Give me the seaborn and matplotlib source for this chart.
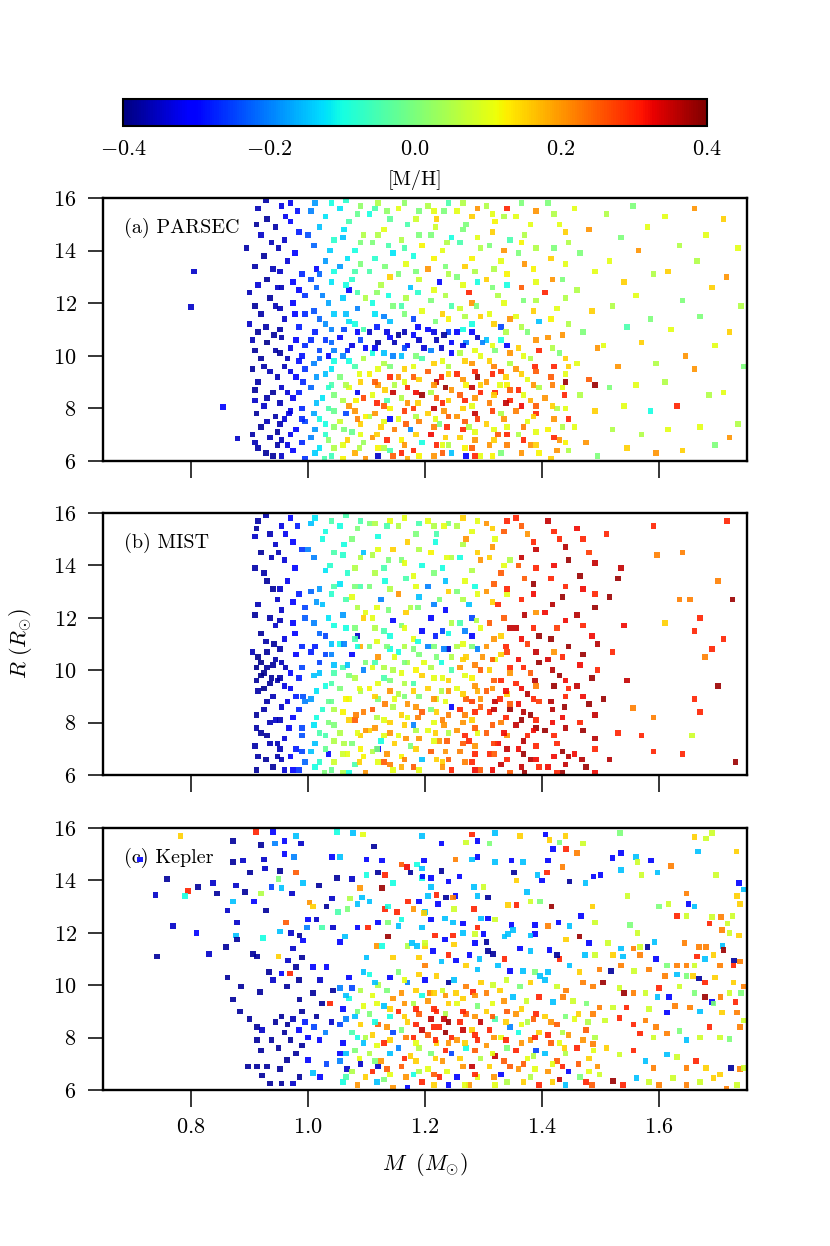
import numpy as np
import pandas as pd
import matplotlib
matplotlib.use("Agg")
import matplotlib.pyplot as plt
import seaborn as sns

sns.set_style("ticks")
plt.rcParams["font.family"] = "serif"
plt.rcParams["font.serif"] = ["cmr10", "DejaVu Serif"]
plt.rcParams["mathtext.fontset"] = "cm"
plt.rcParams["axes.formatter.use_mathtext"] = True
plt.rcParams["axes.unicode_minus"] = True
for key in ["text.color", "axes.labelcolor", "xtick.color", "ytick.color", "axes.edgecolor"]:
    plt.rcParams[key] = "black"

# points: (M [Msun], R [Rsun], [M/H])
parsec_pts = [
    (0.805, 13.2, -0.35), (0.80, 11.85, -0.35), (0.855, 8.05, -0.3), (0.88, 6.85, -0.35),
    (0.915, 15.6, -0.36), (0.93, 15.2, -0.38), (0.92, 14.6, -0.35), (0.945, 14.9, -0.37), (0.925, 13.8, -0.38),
    (0.94, 13.3, -0.36), (0.915, 12.7, -0.34), (0.935, 12.2, -0.38), (0.92, 11.6, -0.37), (0.945, 11.9, -0.36),
    (0.915, 10.9, -0.38), (0.93, 10.5, -0.39), (0.945, 10.2, -0.37), (0.92, 9.9, -0.38), (0.935, 9.4, -0.36),
    (0.915, 9.0, -0.37), (0.94, 8.6, -0.38), (0.925, 8.1, -0.35), (0.945, 7.7, -0.37), (0.92, 7.3, -0.38),
    (0.935, 6.9, -0.36), (0.915, 6.5, -0.37), (0.94, 6.2, -0.38), (0.905, 10.6, -0.36), (0.90, 11.2, -0.35),
    (0.895, 14.1, -0.37), (0.90, 12.4, -0.36), (0.905, 9.5, -0.38), (0.91, 8.3, -0.35), (0.905, 7.0, -0.37),
    (0.955, 15.7, -0.33), (0.97, 15.1, -0.3), (0.96, 14.4, -0.35), (0.985, 14.7, -0.28), (0.965, 13.6, -0.34),
    (0.99, 13.1, -0.27), (0.955, 12.6, -0.36), (0.975, 12.0, -0.31), (0.96, 11.4, -0.35), (0.985, 11.1, -0.28),
    (0.955, 10.7, -0.37), (0.97, 10.3, -0.33), (0.99, 10.0, -0.29), (0.96, 9.6, -0.36), (0.98, 9.2, -0.3),
    (0.955, 8.8, -0.35), (0.975, 8.4, -0.32), (0.99, 8.0, -0.27), (0.96, 7.6, -0.34), (0.98, 7.2, -0.3),
    (0.955, 6.8, -0.36), (0.975, 6.4, -0.31), (0.995, 6.1, -0.26), (0.995, 7.5, -0.25), (0.995, 9.5, -0.26),
    (0.995, 11.6, -0.27), (0.97, 15.8, -0.32), (0.985, 12.5, -0.3), (0.965, 9.9, -0.36), (0.97, 7.9, -0.33),
    (1.005, 15.5, -0.2), (1.02, 14.9, -0.15), (1.04, 15.8, -0.1), (1.01, 14.2, -0.22), (1.03, 13.6, -0.18),
    (1.045, 14.4, -0.08), (1.005, 12.9, -0.25), (1.025, 12.3, -0.2), (1.04, 12.8, -0.12), (1.01, 11.7, -0.24),
    (1.03, 11.2, -0.19), (1.045, 11.6, -0.14), (1.005, 10.6, -0.27), (1.02, 10.2, -0.25), (1.04, 10.5, -0.22),
    (1.01, 9.7, -0.2), (1.03, 9.3, -0.15), (1.045, 9.8, -0.1), (1.005, 8.8, -0.22), (1.025, 8.4, -0.12),
    (1.04, 8.9, -0.05), (1.01, 7.8, -0.17), (1.03, 7.4, -0.1), (1.045, 7.9, -0.02), (1.005, 6.9, -0.2),
    (1.02, 6.5, -0.12), (1.04, 6.2, -0.06), (1.035, 6.8, 0.02), (1.015, 13.3, -0.3), (1.035, 10.0, -0.3),
    (1.055, 15.6, -0.12), (1.07, 15.1, -0.05), (1.09, 15.7, 0.02), (1.06, 14.5, -0.15), (1.08, 14.0, -0.1),
    (1.095, 14.6, 0.05), (1.055, 13.4, -0.18), (1.075, 12.9, -0.08), (1.09, 13.5, 0.0), (1.06, 12.2, -0.14),
    (1.085, 11.8, -0.2), (1.07, 11.3, -0.12), (1.095, 11.0, -0.05), (1.055, 10.7, -0.3), (1.075, 10.4, -0.33),
    (1.09, 10.6, -0.25), (1.06, 10.0, -0.2), (1.08, 9.6, -0.05), (1.095, 9.9, 0.05), (1.055, 9.2, 0.0),
    (1.07, 8.8, 0.1), (1.09, 9.0, 0.15), (1.06, 8.3, 0.05), (1.08, 7.9, 0.2), (1.095, 8.4, 0.27),
    (1.055, 7.5, 0.08), (1.075, 7.1, -0.02), (1.09, 7.4, 0.15), (1.06, 6.6, 0.1), (1.08, 6.3, 0.18),
    (1.095, 6.7, 0.03), (1.07, 12.5, -0.3), (1.085, 8.6, -0.32), (1.065, 7.8, -0.25),
    (1.105, 15.4, -0.1), (1.12, 15.8, 0.05), (1.14, 15.2, -0.03), (1.11, 14.3, 0.0), (1.13, 14.8, 0.1),
    (1.145, 13.9, -0.12), (1.105, 13.2, -0.05), (1.125, 12.7, 0.05), (1.14, 13.0, 0.15), (1.11, 12.0, -0.1),
    (1.13, 11.5, -0.2), (1.145, 11.9, 0.0), (1.105, 10.9, -0.35), (1.12, 10.5, -0.38), (1.14, 10.7, -0.3),
    (1.11, 10.1, -0.1), (1.13, 9.7, 0.05), (1.145, 10.0, -0.2), (1.105, 9.3, 0.12), (1.12, 8.9, 0.2),
    (1.14, 9.2, 0.3), (1.11, 8.5, 0.1), (1.13, 8.1, 0.25), (1.145, 8.6, 0.35), (1.105, 7.7, 0.05),
    (1.125, 7.3, 0.15), (1.14, 7.6, -0.3), (1.11, 6.9, 0.2), (1.13, 6.5, 0.05), (1.145, 6.2, 0.25),
    (1.12, 6.2, -0.35), (1.135, 8.3, -0.05),
    (1.155, 15.6, 0.1), (1.17, 15.0, -0.05), (1.19, 15.5, 0.0), (1.16, 14.4, 0.05), (1.18, 13.8, -0.1),
    (1.195, 14.2, 0.12), (1.155, 13.1, 0.0), (1.175, 12.6, -0.15), (1.19, 12.9, 0.08), (1.16, 11.9, -0.05),
    (1.18, 11.4, -0.25), (1.195, 11.7, 0.1), (1.155, 10.8, -0.38), (1.17, 10.4, -0.32), (1.19, 10.6, -0.35),
    (1.16, 10.0, -0.15), (1.18, 9.6, 0.1), (1.195, 9.9, -0.05), (1.155, 9.2, 0.2), (1.17, 8.8, 0.3),
    (1.19, 9.1, 0.15), (1.16, 8.4, 0.05), (1.18, 8.0, 0.28), (1.195, 8.5, 0.38), (1.155, 7.6, 0.1),
    (1.175, 7.2, -0.2), (1.19, 7.5, 0.22), (1.16, 6.8, 0.12), (1.18, 6.4, 0.3), (1.195, 6.7, -0.1),
    (1.17, 6.1, 0.18),
    (1.205, 15.7, 0.05), (1.22, 15.2, 0.15), (1.24, 15.8, -0.05), (1.21, 14.6, 0.0), (1.23, 14.0, 0.1),
    (1.245, 14.5, -0.1), (1.205, 13.3, 0.2), (1.225, 12.8, -0.3), (1.24, 13.1, 0.05), (1.21, 12.1, 0.0),
    (1.23, 11.6, 0.15), (1.245, 11.9, -0.05), (1.205, 11.0, -0.3), (1.22, 10.6, -0.36), (1.24, 10.9, -0.25),
    (1.21, 10.2, -0.2), (1.23, 9.8, 0.1), (1.245, 10.1, -0.3), (1.205, 9.4, 0.25), (1.22, 9.0, 0.35),
    (1.24, 9.3, 0.15), (1.21, 8.6, 0.05), (1.23, 8.2, 0.3), (1.245, 8.7, 0.2), (1.205, 7.8, 0.15),
    (1.225, 7.4, 0.0), (1.24, 7.7, 0.25), (1.21, 7.0, 0.32), (1.23, 6.6, 0.1), (1.245, 6.3, -0.15),
    (1.215, 6.2, 0.2),
    (1.255, 15.5, 0.1), (1.27, 15.0, 0.0), (1.29, 15.6, 0.2), (1.26, 14.3, -0.05), (1.28, 13.7, 0.12),
    (1.295, 14.1, 0.05), (1.255, 13.0, 0.0), (1.275, 12.4, 0.3), (1.29, 12.8, -0.1), (1.26, 11.8, 0.08),
    (1.28, 11.2, -0.1), (1.295, 11.5, 0.15), (1.255, 10.9, -0.3), (1.27, 10.5, -0.2), (1.29, 10.7, -0.35),
    (1.26, 10.1, 0.05), (1.28, 9.7, 0.2), (1.295, 10.0, 0.1), (1.255, 9.3, 0.3), (1.27, 8.9, 0.12),
    (1.29, 9.2, 0.38), (1.26, 8.5, 0.25), (1.28, 8.1, 0.1), (1.295, 8.6, 0.3), (1.255, 7.7, 0.2),
    (1.275, 7.3, 0.05), (1.29, 7.6, 0.28), (1.26, 6.9, 0.15), (1.28, 6.5, 0.25), (1.295, 6.2, 0.1),
    (1.27, 6.2, -0.3),
    (1.305, 15.7, 0.05), (1.32, 15.1, 0.12), (1.34, 15.6, 0.3), (1.31, 14.2, 0.0), (1.33, 13.6, 0.1),
    (1.345, 14.4, -0.05), (1.305, 12.9, 0.15), (1.325, 12.3, 0.05), (1.34, 12.7, -0.1), (1.31, 11.6, 0.1),
    (1.33, 11.1, -0.25), (1.345, 11.4, 0.2), (1.305, 10.6, -0.15), (1.32, 10.2, 0.0), (1.34, 10.4, -0.3),
    (1.31, 9.8, 0.15), (1.33, 9.4, 0.28), (1.345, 9.7, 0.05), (1.305, 9.0, 0.2), (1.32, 8.6, 0.3),
    (1.34, 8.9, 0.12), (1.31, 8.2, 0.22), (1.33, 7.8, 0.05), (1.345, 8.3, 0.3), (1.305, 7.4, 0.15),
    (1.325, 7.0, 0.25), (1.34, 7.3, 0.1), (1.31, 6.6, 0.2), (1.33, 6.3, 0.0),
    (1.355, 15.3, 0.1), (1.37, 14.6, 0.05), (1.39, 15.5, 0.2), (1.36, 13.9, 0.0), (1.385, 13.3, 0.12),
    (1.365, 12.6, 0.25), (1.39, 12.1, 0.05), (1.355, 11.5, 0.1), (1.375, 10.9, 0.0), (1.395, 11.3, -0.15),
    (1.36, 10.3, 0.15), (1.38, 9.9, 0.05), (1.395, 10.2, 0.3), (1.355, 9.5, 0.2), (1.375, 9.1, 0.1),
    (1.39, 9.4, 0.25), (1.36, 8.7, 0.3), (1.38, 8.3, 0.18), (1.395, 8.8, 0.05), (1.355, 7.9, 0.22),
    (1.375, 7.5, 0.1), (1.39, 7.8, 0.3), (1.36, 7.0, 0.05), (1.38, 6.6, 0.2), (1.395, 6.3, 0.12),
    (1.41, 15.8, 0.0), (1.43, 15.0, 0.1), (1.445, 14.3, 0.05), (1.415, 13.7, 0.15), (1.435, 12.9, 0.0),
    (1.405, 12.4, 0.3), (1.425, 11.8, 0.1), (1.445, 11.2, 0.05), (1.41, 10.7, 0.2), (1.43, 10.1, 0.0),
    (1.445, 9.6, 0.15), (1.415, 9.2, 0.25), (1.435, 8.8, 0.1), (1.405, 8.4, 0.2), (1.425, 8.0, 0.05),
    (1.445, 7.6, 0.3), (1.41, 7.2, 0.12), (1.43, 6.8, 0.2), (1.445, 6.4, 0.05), (1.415, 6.1, 0.15),
    (1.44, 9.0, 0.38),
    (1.455, 15.6, 0.1), (1.48, 14.8, 0.2), (1.465, 13.9, 0.0), (1.49, 13.2, 0.1), (1.46, 12.5, 0.05),
    (1.485, 11.7, 0.15), (1.47, 10.9, 0.0), (1.495, 10.3, 0.2), (1.46, 9.7, 0.1), (1.48, 9.1, 0.25),
    (1.465, 8.5, 0.05), (1.49, 7.9, 0.15), (1.455, 7.3, 0.1), (1.475, 6.7, 0.2), (1.495, 6.2, 0.0),
    (1.49, 8.9, 0.38),
    (1.51, 15.4, 0.05), (1.535, 14.5, 0.0), (1.515, 13.6, 0.1), (1.54, 12.8, 0.15), (1.52, 11.9, 0.05),
    (1.545, 11.1, -0.05), (1.505, 10.4, 0.1), (1.53, 9.6, 0.2), (1.515, 8.8, 0.0), (1.54, 8.1, 0.1),
    (1.52, 7.2, 0.05), (1.545, 6.5, 0.15),
    (1.555, 15.7, 0.0), (1.58, 14.9, 0.1), (1.565, 14.0, 0.2), (1.59, 13.1, 0.05), (1.56, 12.3, 0.1),
    (1.585, 11.4, 0.0), (1.57, 10.5, 0.15), (1.595, 9.7, 0.05), (1.56, 8.9, 0.1), (1.585, 7.9, -0.1),
    (1.57, 7.0, 0.05), (1.595, 6.3, 0.2),
    (1.61, 15.3, 0.1), (1.635, 14.2, 0.05), (1.615, 13.2, 0.15), (1.64, 12.1, 0.0), (1.62, 11.0, 0.1),
    (1.645, 10.0, 0.2), (1.61, 9.0, 0.05), (1.63, 8.1, 0.3), (1.615, 7.2, 0.1), (1.64, 6.4, 0.15),
    (1.66, 15.6, 0.2), (1.68, 14.6, 0.1), (1.665, 13.6, 0.05), (1.69, 12.6, 0.15), (1.67, 11.5, 0.0),
    (1.695, 10.4, 0.1), (1.66, 9.5, 0.2), (1.685, 8.5, 0.05), (1.67, 7.3, 0.1), (1.695, 6.6, 0.0),
    (1.71, 15.2, 0.15), (1.735, 14.1, 0.1), (1.715, 13.0, 0.2), (1.74, 11.9, 0.05), (1.72, 10.9, 0.15),
    (1.745, 9.6, 0.0), (1.71, 8.6, 0.1), (1.735, 7.4, 0.05), (1.72, 6.9, 0.2),
    # denser fill of the crowded part
    (0.928,15.9,-.37),(0.912,15.0,-.38),(0.938,14.3,-.36),(0.91,13.4,-.37),(0.93,12.9,-.38),(0.948,12.6,-.35),
    (0.91,11.9,-.38),(0.928,11.1,-.37),(0.942,10.8,-.38),(0.91,10.2,-.38),(0.925,9.6,-.37),(0.948,9.2,-.36),
    (0.91,8.7,-.38),(0.93,8.4,-.37),(0.912,7.8,-.38),(0.93,7.5,-.36),(0.948,7.1,-.38),(0.91,6.7,-.36),
    (0.928,6.3,-.38),(0.948,6.6,-.37),
    (0.962,15.3,-.32),(0.982,15.5,-.29),(0.95,14.1,-.36),(0.978,13.9,-.3),(0.952,13.2,-.35),(0.975,12.8,-.31),
    (0.995,12.3,-.26),(0.952,11.8,-.36),(0.978,11.6,-.3),(0.952,11.0,-.37),(0.98,10.6,-.31),(0.995,10.4,-.27),
    (0.952,10.1,-.38),(0.985,9.8,-.29),(0.97,9.4,-.33),(0.992,9.0,-.27),(0.965,8.6,-.34),(0.985,8.6,-.28),
    (0.952,8.2,-.36),(0.968,7.8,-.33),(0.99,7.6,-.27),(0.952,7.4,-.36),(0.97,7.0,-.32),(0.99,6.7,-.27),
    (0.955,6.2,-.35),(0.965,6.6,-.33),
    (1.012,15.8,-.18),(1.03,15.3,-.12),(1.0,14.6,-.24),(1.038,14.0,-.14),(1.02,13.1,-.22),(1.045,13.2,-.1),
    (1.015,12.6,-.22),(1.035,12.0,-.17),(1.02,11.4,-.22),(1.04,11.0,-.2),(1.012,10.9,-.28),(1.03,10.6,-.26),
    (1.045,10.2,-.2),(1.02,9.9,-.22),(1.04,9.5,-.12),(1.015,9.2,-.18),(1.035,8.8,-.08),(1.045,8.5,0.0),
    (1.015,8.2,-.15),(1.035,8.0,-.05),(1.02,7.6,-.1),(1.045,7.3,0.02),(1.012,7.2,-.18),(1.03,7.0,-.08),
    (1.012,6.3,-.14),(1.028,6.1,-.05),(1.045,6.5,0.05),
    (1.065,15.9,-.08),(1.085,15.4,-.02),(1.062,14.8,-.12),(1.09,14.3,0.0),(1.068,13.7,-.12),(1.08,13.2,-.05),
    (1.065,12.7,-.1),(1.085,12.4,-.05),(1.098,12.2,0.05),(1.065,11.6,-.15),(1.08,11.2,-.1),(1.062,11.0,-.25),
    (1.085,10.9,-.3),(1.068,10.2,-.28),(1.098,10.3,-.3),(1.07,9.8,-.1),(1.088,9.3,0.1),(1.065,8.9,0.05),
    (1.082,8.3,0.12),(1.07,8.1,0.2),(1.098,7.7,0.12),(1.085,7.6,0.22),(1.062,7.2,0.0),(1.09,7.0,0.1),
    (1.068,6.8,0.15),(1.088,6.5,0.05),(1.06,6.1,0.12),(1.098,6.1,0.2),
    (1.115,15.6,-.05),(1.135,15.5,0.02),(1.12,14.6,0.05),(1.138,14.2,-.05),(1.115,13.7,-.08),(1.132,13.4,0.0),
    (1.118,12.4,0.02),(1.138,12.3,-.1),(1.115,11.6,-.12),(1.14,11.3,-.15),(1.118,11.1,-.28),(1.135,10.9,-.33),
    (1.148,10.5,-.36),(1.115,10.3,-.32),(1.13,10.1,-.15),(1.12,9.5,0.1),(1.14,9.6,0.0),(1.115,9.0,0.25),
    (1.132,8.7,0.15),(1.148,8.9,0.05),(1.118,8.2,0.3),(1.14,8.0,0.12),(1.115,7.8,0.2),(1.13,7.5,0.1),
    (1.148,7.2,0.22),(1.118,7.0,0.15),(1.135,6.8,0.3),(1.12,6.5,0.12),(1.14,6.4,-.05),
    (1.165,15.8,0.02),(1.185,15.2,0.08),(1.165,14.1,-.05),(1.19,14.6,0.0),(1.168,13.5,0.1),(1.185,13.2,0.0),
    (1.168,12.2,0.05),(1.188,12.4,-.08),(1.165,11.6,0.0),(1.188,11.1,-.3),(1.165,10.9,-.36),(1.18,10.8,-.3),
    (1.198,10.3,-.34),(1.165,10.3,-.25),(1.185,10.0,0.0),(1.165,9.5,0.15),(1.18,9.2,0.25),(1.165,9.0,0.1),
    (1.185,8.6,0.32),(1.17,8.2,0.2),(1.188,8.2,0.15),(1.165,7.9,0.28),(1.185,7.7,0.05),(1.168,7.4,0.25),
    (1.185,7.0,0.15),(1.165,6.6,0.2),(1.19,6.2,0.12),(1.16,6.3,0.3),
    (1.215,15.5,0.1),(1.232,15.5,0.0),(1.218,14.9,0.08),(1.238,14.3,0.05),(1.215,13.7,0.12),(1.235,13.4,0.0),
    (1.215,12.5,0.1),(1.235,12.3,0.05),(1.218,11.3,0.0),(1.24,11.4,0.12),(1.215,10.9,-.33),(1.232,10.8,-.38),
    (1.245,10.5,-.3),(1.228,10.3,-.35),(1.215,9.7,0.15),(1.24,9.6,0.05),(1.228,9.2,0.3),(1.215,8.9,0.2),
    (1.235,8.8,0.38),(1.22,8.4,0.25),(1.24,8.3,0.15),(1.215,8.0,0.35),(1.232,7.9,0.2),(1.218,7.6,0.1),
    (1.238,7.3,0.3),(1.215,7.3,0.22),(1.235,6.9,0.15),(1.22,6.6,0.3),(1.24,6.6,0.05),(1.23,6.3,0.25),
    (1.265,15.8,0.05),(1.28,15.3,0.15),(1.265,14.8,0.0),(1.29,14.5,0.1),(1.268,13.4,0.15),(1.285,13.2,0.05),
    (1.265,12.7,0.1),(1.28,12.0,0.2),(1.268,11.5,0.05),(1.288,11.9,0.0),(1.265,11.0,-.1),(1.28,10.9,-.3),
    (1.298,10.5,-.2),(1.265,10.4,-.33),(1.285,10.2,0.1),(1.268,9.8,0.15),(1.285,9.4,0.3),(1.265,9.1,0.2),
    (1.28,8.8,0.35),(1.295,8.9,0.15),(1.268,8.3,0.3),(1.285,8.4,0.2),(1.265,8.0,0.15),(1.285,7.8,0.35),
    (1.268,7.5,0.25),(1.285,7.1,0.1),(1.265,7.2,0.3),(1.285,6.8,0.2),(1.268,6.5,0.12),(1.285,6.2,0.3),
    (1.315,15.4,0.1),(1.335,15.3,0.05),(1.315,14.7,0.15),(1.335,14.0,0.2),(1.318,13.3,0.05),(1.34,13.1,0.12),
    (1.315,12.6,0.0),(1.335,12.0,0.1),(1.318,11.2,0.15),(1.338,10.9,0.05),(1.315,10.4,0.1),(1.33,10.6,-.1),
    (1.345,10.1,0.2),(1.318,9.6,0.22),(1.338,9.2,0.15),(1.315,9.3,0.3),(1.328,8.9,0.1),(1.345,8.7,0.25),
    (1.318,8.5,0.15),(1.338,8.2,0.35),(1.315,7.9,0.28),(1.335,7.6,0.2),(1.318,7.2,0.1),(1.34,7.0,0.3),
    (1.318,6.8,0.15),(1.34,6.6,0.22),(1.315,6.2,0.12),
    (1.365,15.8,0.0),(1.38,15.0,0.1),(1.365,14.3,0.12),(1.39,14.1,0.05),(1.37,13.5,0.2),(1.39,12.8,0.1),
    (1.368,12.1,0.0),(1.385,11.7,0.15),(1.365,11.1,0.05),(1.39,10.6,0.2),(1.368,10.0,0.1),(1.388,9.6,0.3),
    (1.365,9.3,0.15),(1.385,8.9,0.2),(1.368,8.5,0.1),(1.39,8.1,0.25),(1.365,8.1,0.32),(1.385,7.7,0.15),
    (1.368,7.3,0.22),(1.39,7.1,0.1),(1.368,6.8,0.3),(1.39,6.6,0.15),(1.365,6.3,0.2),
    (1.42,15.4,0.05),(1.44,14.7,0.15),(1.42,14.1,0.0),(1.44,13.5,0.1),(1.418,12.9,0.2),(1.44,12.2,0.05),
    (1.415,11.4,0.12),(1.435,10.8,0.2),(1.418,10.3,0.05),(1.44,9.9,0.15),(1.42,9.6,0.3),(1.44,9.3,0.1),
    (1.418,8.9,0.22),(1.438,8.5,0.3),(1.418,8.1,0.15),(1.44,8.0,0.1),(1.42,7.6,0.2),(1.435,7.3,0.05),
    (1.42,6.9,0.3),(1.44,6.7,0.12),(1.425,6.4,0.2),
]

mist_pts = [
    (0.915, 15.7, -0.37), (0.935, 15.2, -0.36), (0.92, 14.5, -0.38), (0.945, 14.8, -0.35), (0.925, 13.7, -0.37),
    (0.94, 13.1, -0.38), (0.915, 12.5, -0.36), (0.935, 12.0, -0.37), (0.92, 11.4, -0.38), (0.945, 11.7, -0.35),
    (0.915, 10.5, -0.39), (0.93, 10.1, -0.38), (0.945, 10.4, -0.37), (0.92, 9.8, -0.39), (0.935, 9.5, -0.38),
    (0.915, 9.2, -0.37), (0.94, 9.0, -0.36), (0.925, 8.5, -0.37), (0.945, 8.1, -0.35), (0.92, 7.6, -0.38),
    (0.935, 7.2, -0.36), (0.915, 6.7, -0.37), (0.94, 6.3, -0.38), (0.905, 10.7, -0.36), (0.91, 7.1, -0.37),
    (0.91, 15.1, -0.35), (0.93, 10.7, -0.38), (0.925, 9.3, -0.39),
    (0.955, 15.5, -0.33), (0.975, 14.9, -0.3), (0.96, 14.2, -0.34), (0.99, 14.6, -0.26), (0.965, 13.4, -0.32),
    (0.985, 12.9, -0.28), (0.955, 12.3, -0.35), (0.975, 11.8, -0.3), (0.96, 11.2, -0.33), (0.99, 10.9, -0.27),
    (0.955, 10.3, -0.36), (0.97, 9.9, -0.3), (0.99, 10.1, -0.25), (0.96, 9.4, -0.33), (0.98, 9.0, -0.28),
    (0.955, 8.6, -0.35), (0.975, 8.2, -0.3), (0.99, 7.8, -0.25), (0.96, 7.4, -0.34), (0.98, 7.0, -0.28),
    (0.955, 6.6, -0.36), (0.975, 6.2, -0.31), (0.995, 6.5, -0.22), (0.995, 8.8, -0.2), (0.995, 12.0, -0.23),
    (0.97, 15.8, -0.3),
    (1.005, 15.6, -0.15), (1.025, 15.0, -0.1), (1.04, 15.7, -0.05), (1.01, 14.3, -0.2), (1.03, 13.8, -0.12),
    (1.045, 14.5, -0.05), (1.005, 13.0, -0.22), (1.025, 12.5, -0.15), (1.04, 12.9, -0.08), (1.01, 11.8, -0.2),
    (1.03, 11.3, -0.25), (1.045, 11.7, -0.1), (1.005, 10.7, -0.28), (1.02, 10.3, -0.25), (1.04, 10.6, -0.2),
    (1.01, 9.8, -0.15), (1.03, 9.4, -0.1), (1.045, 9.9, -0.05), (1.005, 8.9, -0.18), (1.025, 8.5, -0.08),
    (1.04, 8.8, -0.02), (1.01, 7.9, -0.12), (1.03, 7.5, -0.05), (1.045, 7.9, 0.0), (1.005, 6.9, -0.15),
    (1.02, 6.5, -0.08), (1.04, 6.2, -0.02), (1.035, 6.8, -0.3),
    (1.055, 15.5, -0.1), (1.075, 15.0, 0.0), (1.09, 15.7, -0.05), (1.06, 14.4, -0.08), (1.08, 13.9, 0.05),
    (1.095, 14.5, -0.15), (1.055, 13.3, -0.12), (1.075, 12.8, 0.1), (1.09, 13.2, -0.05), (1.06, 12.1, -0.18),
    (1.08, 11.6, 0.0), (1.095, 12.0, 0.15), (1.055, 11.0, -0.1), (1.075, 10.6, -0.3), (1.09, 10.9, 0.18),
    (1.06, 10.1, -0.05), (1.08, 9.7, 0.05), (1.095, 10.0, -0.2), (1.055, 9.3, 0.0), (1.07, 8.9, 0.1),
    (1.09, 9.2, 0.05), (1.06, 8.4, 0.12), (1.08, 8.1, 0.25), (1.095, 8.4, 0.22), (1.055, 7.6, 0.05),
    (1.075, 7.2, 0.0), (1.09, 7.5, 0.15), (1.06, 6.8, 0.08), (1.08, 6.4, -0.05), (1.095, 6.7, 0.12),
    (1.07, 6.1, -0.1), (1.085, 11.3, -0.35),
    (1.105, 15.6, 0.0), (1.12, 15.1, -0.1), (1.14, 15.7, 0.1), (1.11, 14.4, 0.05), (1.13, 13.9, -0.05),
    (1.145, 14.6, 0.15), (1.105, 13.2, 0.0), (1.125, 12.7, -0.2), (1.14, 13.1, 0.05), (1.11, 12.0, 0.1),
    (1.13, 11.5, -0.05), (1.145, 11.9, -0.3), (1.105, 10.9, 0.0), (1.12, 10.5, 0.2), (1.14, 10.8, -0.1),
    (1.11, 10.1, 0.1), (1.13, 9.7, -0.05), (1.145, 10.0, 0.05), (1.105, 9.3, 0.12), (1.12, 8.9, 0.0),
    (1.14, 9.2, 0.2), (1.11, 8.5, 0.25), (1.13, 8.1, 0.1), (1.145, 8.6, 0.05), (1.105, 7.7, 0.15),
    (1.125, 7.3, -0.1), (1.14, 7.6, 0.2), (1.11, 6.9, 0.05), (1.13, 6.5, 0.25), (1.145, 6.2, 0.1),
    (1.12, 7.0, -0.3),
    (1.155, 15.5, 0.05), (1.17, 14.9, 0.15), (1.19, 15.6, -0.05), (1.16, 14.2, 0.0), (1.18, 13.6, 0.1),
    (1.195, 14.0, -0.1), (1.155, 12.9, 0.2), (1.175, 12.4, 0.05), (1.19, 12.8, -0.15), (1.16, 11.7, 0.0),
    (1.18, 11.2, 0.1), (1.195, 11.5, -0.3), (1.155, 10.7, -0.1), (1.17, 10.3, 0.05), (1.19, 10.6, 0.0),
    (1.16, 9.9, 0.1), (1.18, 9.5, -0.05), (1.195, 9.8, 0.15), (1.155, 9.1, 0.05), (1.17, 8.7, 0.2),
    (1.19, 9.0, 0.0), (1.16, 8.3, 0.15), (1.18, 7.9, -0.2), (1.195, 8.4, 0.25), (1.155, 7.5, 0.1),
    (1.175, 7.1, 0.0), (1.19, 7.4, 0.2), (1.16, 6.7, 0.12), (1.18, 6.3, 0.25), (1.195, 6.6, -0.15),
    (1.205, 15.7, 0.1), (1.22, 15.2, -0.05), (1.24, 15.6, 0.0), (1.21, 14.5, 0.12), (1.23, 13.9, -0.1),
    (1.245, 14.3, 0.05), (1.205, 13.2, -0.2), (1.225, 12.7, 0.0), (1.24, 13.0, 0.15), (1.21, 12.0, -0.3),
    (1.23, 11.5, -0.25), (1.245, 11.8, 0.05), (1.205, 10.9, -0.2), (1.22, 10.5, 0.0), (1.24, 10.8, -0.35),
    (1.21, 10.1, 0.05), (1.23, 9.7, 0.1), (1.245, 10.0, -0.05), (1.205, 9.3, 0.15), (1.22, 8.9, 0.08),
    (1.24, 9.2, 0.2), (1.21, 8.5, 0.0), (1.23, 8.1, 0.22), (1.245, 8.6, -0.3), (1.205, 7.7, 0.1),
    (1.225, 7.3, 0.2), (1.24, 7.6, 0.05), (1.21, 6.9, 0.25), (1.23, 6.5, 0.15), (1.245, 6.2, 0.3),
    (1.255, 15.5, 0.05), (1.27, 15.0, 0.2), (1.29, 15.7, 0.1), (1.26, 14.3, -0.1), (1.28, 13.8, 0.05),
    (1.295, 14.2, 0.2), (1.255, 13.0, 0.0), (1.275, 12.5, -0.15), (1.29, 12.9, 0.1), (1.26, 11.8, -0.05),
    (1.28, 11.3, -0.3), (1.295, 11.6, 0.1), (1.255, 10.9, 0.05), (1.27, 10.5, 0.15), (1.29, 10.8, -0.2),
    (1.26, 10.1, 0.2), (1.28, 9.7, 0.12), (1.295, 10.0, 0.25), (1.255, 9.3, 0.1), (1.27, 8.9, 0.25),
    (1.29, 9.2, 0.18), (1.26, 8.5, 0.3), (1.28, 8.1, 0.15), (1.295, 8.6, 0.25), (1.255, 7.7, 0.2),
    (1.275, 7.3, 0.3), (1.29, 7.6, 0.1), (1.26, 6.9, 0.22), (1.28, 6.5, 0.3), (1.295, 6.2, 0.25),
    (1.305, 15.6, 0.2), (1.32, 15.0, 0.1), (1.34, 15.7, 0.3), (1.31, 14.3, 0.15), (1.33, 13.7, 0.25),
    (1.345, 14.2, 0.05), (1.305, 13.0, 0.2), (1.325, 12.5, 0.3), (1.34, 12.9, 0.1), (1.31, 11.8, 0.25),
    (1.33, 11.3, 0.15), (1.345, 11.6, 0.35), (1.305, 10.9, 0.2), (1.32, 10.4, 0.1), (1.34, 10.7, 0.28),
    (1.31, 10.0, 0.15), (1.33, 9.6, 0.3), (1.345, 9.9, 0.2), (1.305, 9.2, 0.25), (1.32, 8.8, 0.35),
    (1.34, 9.1, 0.15), (1.31, 8.4, 0.3), (1.33, 8.0, 0.22), (1.345, 8.5, 0.38), (1.305, 7.6, 0.25),
    (1.325, 7.2, 0.32), (1.34, 7.5, 0.2), (1.31, 6.8, 0.3), (1.33, 6.4, 0.35), (1.345, 6.1, 0.25),
    (1.355, 15.8, 0.3), (1.375, 15.2, 0.2), (1.39, 14.6, 0.35), (1.36, 14.0, 0.25), (1.385, 13.3, 0.38),
    (1.365, 12.7, 0.3), (1.39, 12.2, 0.2), (1.355, 11.6, 0.35), (1.375, 11.0, 0.28), (1.395, 11.3, 0.38),
    (1.36, 10.4, 0.32), (1.38, 9.9, 0.25), (1.395, 10.3, 0.38), (1.355, 9.5, 0.3), (1.375, 9.1, 0.36),
    (1.39, 9.4, 0.22), (1.36, 8.7, 0.32), (1.38, 8.3, 0.38), (1.395, 8.8, 0.28), (1.355, 7.9, 0.35),
    (1.375, 7.5, 0.3), (1.39, 7.8, 0.38), (1.36, 7.0, 0.32), (1.38, 6.6, 0.36), (1.395, 6.3, 0.3),
    (1.37, 6.1, 0.38),
    (1.41, 15.7, 0.35), (1.43, 15.0, 0.3), (1.445, 14.2, 0.38), (1.415, 13.5, 0.3), (1.435, 12.8, 0.38),
    (1.405, 12.2, 0.32), (1.425, 11.6, 0.28), (1.445, 10.9, 0.38), (1.41, 10.4, 0.34), (1.43, 9.8, 0.38),
    (1.445, 9.3, 0.3), (1.415, 8.8, 0.36), (1.435, 8.2, 0.32), (1.405, 7.7, 0.38), (1.425, 7.2, 0.3),
    (1.445, 6.7, 0.36), (1.41, 6.3, 0.32), (1.435, 6.1, 0.38), (1.42, 10.7, 0.2),
    (1.46, 15.4, 0.32), (1.48, 14.5, 0.28), (1.465, 13.6, 0.38), (1.49, 12.9, 0.3), (1.46, 12.1, 0.36),
    (1.485, 11.3, 0.32), (1.47, 10.6, 0.38), (1.495, 10.0, 0.3), (1.46, 9.4, 0.35), (1.48, 8.7, 0.38),
    (1.465, 8.0, 0.3), (1.49, 7.4, 0.36), (1.455, 6.8, 0.32), (1.475, 6.3, 0.38),
    (1.51, 15.2, 0.3), (1.535, 13.9, 0.35), (1.515, 12.8, 0.38), (1.54, 11.7, 0.32), (1.52, 10.7, 0.3),
    (1.545, 9.6, 0.35), (1.505, 8.9, 0.38), (1.53, 7.6, 0.3), (1.515, 6.6, 0.36), (1.53, 13.5, 0.38),
    (1.716, 15.7, 0.3), (1.70, 13.4, 0.22), (1.725, 12.7, 0.38), (1.67, 12.0, 0.3), (1.69, 10.8, 0.3),
    (1.678, 10.5, 0.22), (1.71, 11.2, 0.3), (1.70, 9.4, 0.38), (1.66, 8.9, 0.3), (1.67, 8.4, 0.3),
    (1.656, 7.5, 0.08), (1.64, 6.8, 0.3), (1.73, 6.5, 0.38), (1.59, 6.9, 0.3), (1.57, 7.5, 0.3),
    (1.59, 8.2, 0.22), (1.555, 8.55, 0.22), (1.61, 11.8, 0.15), (1.64, 14.5, 0.22), (1.596, 14.4, 0.22),
    (1.59, 15.5, 0.3), (1.635, 12.7, 0.22), (1.653, 12.7, 0.22), (1.66, 11.5, 0.3),
    # denser fill of the crowded part
    (0.928,15.9,-.37),(0.912,15.4,-.38),(0.938,14.3,-.36),(0.91,13.9,-.37),(0.93,13.4,-.38),(0.948,12.7,-.35),
    (0.91,12.1,-.38),(0.928,11.1,-.37),(0.942,11.0,-.38),(0.912,10.1,-.39),(0.925,9.9,-.39),(0.938,9.7,-.38),
    (0.948,9.6,-.37),(0.912,9.6,-.38),(0.92,10.3,-.39),(0.94,10.2,-.38),(0.93,8.8,-.37),(0.912,8.3,-.38),
    (0.935,8.0,-.36),(0.912,7.8,-.37),(0.93,7.5,-.38),(0.948,7.2,-.36),(0.928,6.6,-.38),(0.948,6.7,-.37),
    (0.912,6.2,-.38),
    (0.962,15.2,-.32),(0.982,15.5,-.28),(0.95,14.5,-.36),(0.978,13.9,-.3),(0.952,13.1,-.35),(0.975,12.6,-.31),
    (0.995,12.4,-.25),(0.952,11.9,-.36),(0.978,11.4,-.3),(0.952,10.8,-.37),(0.98,10.6,-.3),(0.962,10.1,-.36),
    (0.985,9.7,-.28),(0.952,9.7,-.37),(0.97,9.3,-.32),(0.992,9.0,-.24),(0.965,8.8,-.33),(0.985,8.5,-.27),
    (0.952,8.1,-.36),(0.968,7.8,-.32),(0.99,7.5,-.24),(0.952,7.0,-.36),(0.97,6.7,-.3),(0.99,6.9,-.25),
    (0.96,6.2,-.34),(0.985,6.2,-.26),
    (1.012,15.8,-.12),(1.03,15.3,-.1),(1.0,14.6,-.2),(1.038,14.0,-.08),(1.02,13.1,-.18),(1.045,13.2,-.05),
    (1.015,12.6,-.18),(1.035,12.0,-.12),(1.02,11.4,-.22),(1.04,11.0,-.15),(1.012,10.9,-.28),(1.03,10.6,-.25),
    (1.045,10.2,-.15),(1.02,9.9,-.15),(1.04,9.5,-.05),(1.015,9.2,-.12),(1.035,8.8,-.02),(1.045,8.5,0.05),
    (1.015,8.2,-.1),(1.035,8.0,0.0),(1.02,7.6,-.05),(1.045,7.3,0.05),(1.012,7.2,-.15),(1.03,7.0,-.02),
    (1.012,6.3,-.1),(1.028,6.1,0.0),(1.045,6.5,0.08),
    (1.065,15.9,-.05),(1.085,15.4,0.0),(1.062,14.8,-.1),(1.09,14.3,0.05),(1.068,13.7,-.08),(1.08,13.2,0.0),
    (1.065,12.7,-.05),(1.085,12.4,0.05),(1.098,12.2,0.1),(1.065,11.6,-.1),(1.08,11.2,-.05),(1.062,11.0,-.2),
    (1.085,10.9,-.1),(1.068,10.2,-.15),(1.098,10.3,0.0),(1.07,9.8,0.0),(1.088,9.3,0.1),(1.065,8.9,0.12),
    (1.082,8.3,0.22),(1.07,8.1,0.15),(1.098,7.7,0.2),(1.085,7.6,0.1),(1.062,7.2,0.05),(1.09,7.0,0.12),
    (1.068,6.8,0.1),(1.088,6.5,0.15),(1.06,6.1,0.05),(1.098,6.1,0.2),
    (1.115,15.6,0.05),(1.135,15.5,-.05),(1.12,14.6,0.1),(1.138,14.2,0.0),(1.115,13.7,0.05),(1.132,13.4,-.1),
    (1.118,12.4,0.1),(1.138,12.3,0.0),(1.115,11.6,0.05),(1.14,11.3,-.1),(1.118,11.1,0.1),(1.135,10.9,0.0),
    (1.148,10.5,0.1),(1.115,10.3,-.05),(1.13,10.1,0.05),(1.12,9.5,0.1),(1.14,9.6,0.0),(1.115,9.0,0.15),
    (1.132,8.7,0.22),(1.148,8.9,0.1),(1.118,8.2,0.05),(1.14,8.0,0.15),(1.115,7.8,0.2),(1.13,7.5,0.1),
    (1.148,7.2,0.15),(1.118,7.0,0.0),(1.135,6.8,0.2),(1.12,6.5,0.1),(1.14,6.4,0.22),
    (1.165,15.8,0.1),(1.185,15.2,0.0),(1.165,14.1,0.1),(1.19,14.6,0.05),(1.168,13.5,-.05),(1.185,13.2,0.1),
    (1.168,12.2,0.15),(1.188,12.4,0.0),(1.165,11.6,0.1),(1.188,11.1,-.1),(1.165,10.9,0.05),(1.18,10.8,0.0),
    (1.198,10.3,0.1),(1.165,10.3,0.0),(1.185,10.0,0.12),(1.165,9.5,0.05),(1.18,9.2,0.15),(1.165,9.0,0.0),
    (1.185,8.6,0.2),(1.17,8.2,0.1),(1.188,8.2,0.22),(1.165,7.9,0.15),(1.185,7.7,0.05),(1.168,7.4,0.2),
    (1.185,7.0,0.15),(1.165,6.6,0.22),(1.19,6.2,0.1),(1.16,6.3,0.18),
    (1.215,15.5,0.05),(1.232,15.5,0.1),(1.218,14.9,-.1),(1.238,14.3,0.1),(1.215,13.7,0.0),(1.235,13.4,-.15),
    (1.215,12.5,-.2),(1.235,12.3,-.3),(1.218,11.3,-.28),(1.24,11.4,-.1),(1.215,10.9,0.0),(1.232,10.8,-.2),
    (1.245,10.5,0.05),(1.228,10.3,-.1),(1.215,9.7,0.1),(1.24,9.6,0.15),(1.228,9.2,0.05),(1.215,8.9,0.2),
    (1.235,8.8,0.1),(1.22,8.4,0.15),(1.24,8.3,0.22),(1.215,8.0,0.1),(1.232,7.9,0.2),(1.218,7.6,0.15),
    (1.238,7.3,0.25),(1.215,7.3,0.1),(1.235,6.9,0.2),(1.22,6.6,0.15),(1.24,6.6,0.25),(1.23,6.3,0.2),
    (1.265,15.8,0.15),(1.28,15.3,0.1),(1.265,14.8,0.05),(1.29,14.5,0.15),(1.268,13.4,0.1),(1.285,13.2,-.1),
    (1.265,12.7,0.05),(1.28,12.0,-.25),(1.268,11.5,-.2),(1.288,11.9,0.05),(1.265,11.0,0.1),(1.28,10.9,0.0),
    (1.298,10.5,0.2),(1.265,10.4,0.15),(1.285,10.2,0.22),(1.268,9.8,0.1),(1.285,9.4,0.2),(1.265,9.1,0.15),
    (1.28,8.8,0.28),(1.295,8.9,0.2),(1.268,8.3,0.22),(1.285,8.4,0.3),(1.265,8.0,0.2),(1.285,7.8,0.25),
    (1.268,7.5,0.3),(1.285,7.1,0.2),(1.265,7.2,0.25),(1.285,6.8,0.3),(1.268,6.5,0.22),(1.285,6.2,0.32),
    (1.315,15.4,0.15),(1.335,15.3,0.25),(1.315,14.7,0.2),(1.335,14.0,0.1),(1.318,13.3,0.25),(1.34,13.1,0.3),
    (1.315,12.6,0.15),(1.335,12.0,0.25),(1.318,11.2,0.2),(1.338,10.9,0.3),(1.315,10.4,0.25),(1.33,10.6,0.15),
    (1.345,10.1,0.3),(1.318,9.6,0.25),(1.338,9.2,0.32),(1.315,9.3,0.2),(1.328,8.9,0.3),(1.345,8.7,0.25),
    (1.318,8.5,0.35),(1.338,8.2,0.3),(1.315,7.9,0.25),(1.335,7.6,0.32),(1.318,7.2,0.28),(1.34,7.0,0.35),
    (1.318,6.8,0.25),(1.34,6.6,0.3),(1.315,6.2,0.32),
    (1.365,15.5,0.25),(1.385,14.9,0.3),(1.365,14.3,0.35),(1.39,13.9,0.3),(1.37,13.5,0.25),(1.385,12.9,0.32),
    (1.37,12.1,0.36),(1.385,11.6,0.3),(1.365,11.2,0.32),(1.39,10.7,0.35),(1.368,10.1,0.3),(1.388,9.6,0.36),
    (1.365,9.3,0.32),(1.385,8.9,0.3),(1.368,8.4,0.36),(1.39,8.1,0.3),(1.365,8.1,0.38),(1.385,7.7,0.32),
    (1.368,7.3,0.36),(1.39,7.1,0.3),(1.368,6.8,0.38),(1.39,6.6,0.32),(1.365,6.3,0.35),
    (1.42,15.3,0.3),(1.44,14.7,0.36),(1.42,14.0,0.32),(1.44,13.2,0.3),(1.418,12.5,0.36),(1.44,11.9,0.32),
    (1.415,11.2,0.38),(1.435,10.5,0.3),(1.418,10.0,0.36),(1.44,9.6,0.32),(1.42,9.4,0.38),(1.44,9.0,0.3),
    (1.418,8.5,0.36),(1.438,8.6,0.38),(1.418,8.0,0.32),(1.44,7.8,0.36),(1.42,7.5,0.3),(1.435,6.9,0.38),
    (1.42,6.7,0.32),(1.44,6.4,0.35),(1.425,6.1,0.3),
    (1.47,15.0,0.3),(1.49,14.1,0.35),(1.47,13.1,0.32),(1.49,12.4,0.38),(1.47,11.7,0.3),(1.495,11.0,0.36),
    (1.465,10.2,0.32),(1.485,9.7,0.38),(1.47,9.0,0.32),(1.49,8.3,0.35),(1.47,7.7,0.38),(1.49,7.0,0.3),
    (1.468,6.6,0.36),(1.49,6.1,0.32),
]

kepler_pts = [
    (0.782, 15.7, 0.15), (0.872, 15.5, -0.38), (0.911, 15.85, 0.3), (0.94, 15.85, -0.3), (0.92, 15.35, -0.38),
    (0.944, 15.4, -0.2), (0.96, 15.5, -0.3), (0.988, 15.4, -0.35), (0.98, 15.7, -0.15), (0.96, 15.0, -0.3),
    (0.976, 14.9, -0.2), (0.925, 14.8, -0.35), (0.889, 14.75, -0.35), (0.872, 14.7, -0.38), (0.713, 14.8, -0.3),
    (0.759, 14.05, -0.38), (0.74, 13.45, -0.35), (0.795, 13.6, 0.3), (0.79, 13.4, -0.1), (0.812, 13.75, -0.38),
    (0.838, 13.9, -0.35), (0.845, 13.5, -0.38), (0.877, 13.8, -0.35), (0.893, 13.55, -0.38), (0.901, 14.3, -0.38),
    (0.927, 14.45, -0.35), (0.952, 14.35, -0.38), (0.95, 14.05, 0.0), (0.98, 14.3, 0.25), (0.992, 13.9, -0.15),
    (1.019, 13.8, -0.38), (0.938, 13.75, -0.25), (0.955, 13.7, -0.15), (0.973, 13.5, -0.35), (0.92, 13.5, 0.05),
    (0.908, 13.2, -0.3), (0.928, 12.85, -0.38), (0.872, 13.2, -0.15), (0.863, 12.85, -0.35), (0.879, 12.4, -0.35),
    (0.77, 12.25, -0.35), (0.81, 12.0, -0.3), (0.877, 11.9, -0.15), (0.879, 11.75, -0.38), (0.86, 11.45, -0.38),
    (0.831, 11.2, -0.35), (0.742, 11.1, -0.38), (0.923, 11.8, -0.1), (0.906, 11.2, -0.38), (0.913, 11.1, -0.38),
    (0.963, 12.4, 0.25), (0.952, 12.05, -0.15), (0.971, 12.0, -0.35), (0.986, 11.9, -0.38), (0.992, 11.7, -0.3),
    (0.975, 11.4, -0.35), (0.95, 11.1, 0.15), (0.966, 10.95, -0.35), (0.99, 11.05, -0.38), (1.0, 12.5, -0.3),
    (1.003, 13.15, 0.2), (1.009, 13.0, 0.15), (0.998, 12.2, -0.2), (1.015, 12.5, -0.35), (1.032, 13.0, -0.38),
    (1.041, 13.3, -0.35), (1.051, 12.8, -0.05), (1.068, 12.9, 0.0), (1.043, 12.2, -0.35), (1.024, 12.2, -0.05),
    (1.055, 11.65, -0.3), (1.063, 11.85, -0.15),
    (0.863, 10.3, -0.38), (0.886, 9.95, -0.38), (0.872, 9.45, -0.38), (0.918, 9.75, -0.38), (0.884, 9.0, -0.38),
    (0.90, 8.7, -0.38), (0.913, 8.4, -0.38), (0.922, 8.3, -0.35), (0.934, 10.5, -0.38), (0.94, 10.2, -0.35),
    (0.955, 10.45, -0.3), (0.969, 10.45, 0.3), (0.98, 10.7, -0.38), (0.985, 10.2, -0.38), (0.964, 9.95, -0.38),
    (0.986, 9.45, -0.38), (1.009, 9.7, -0.38), (1.021, 10.2, -0.35), (1.009, 10.7, -0.3), (1.032, 10.7, -0.3),
    (1.043, 9.8, -0.38), (1.038, 9.3, 0.3), (1.024, 9.3, -0.38),
    (0.955, 8.8, -0.38), (0.965, 8.5, -0.38), (0.975, 8.7, -0.36), (0.96, 8.2, -0.38), (0.97, 7.9, -0.38),
    (0.985, 8.3, -0.3), (0.995, 8.6, -0.28), (1.0, 8.0, -0.3), (1.01, 8.4, -0.25), (1.02, 7.9, -0.3),
    (1.015, 8.8, -0.38), (0.99, 7.7, -0.38), (0.98, 7.4, -0.38), (0.95, 7.6, -0.38), (1.03, 8.2, -0.2),
    (1.04, 8.6, -0.35), (0.945, 8.6, -0.38), (0.99, 9.0, -0.38),
    (0.913, 7.9, -0.38), (0.92, 7.5, -0.38), (0.938, 7.9, -0.38), (0.898, 6.9, -0.38), (0.913, 6.9, -0.38),
    (0.93, 6.9, -0.38), (0.952, 6.8, -0.38), (0.964, 7.15, -0.38), (0.922, 6.55, -0.38), (0.935, 6.25, -0.38),
    (0.955, 6.25, -0.38), (0.975, 6.25, -0.35), (0.986, 6.5, -0.38), (1.0, 7.15, -0.3), (1.009, 6.65, -0.15),
    (1.021, 6.5, -0.3), (1.032, 7.0, -0.25), (1.055, 7.4, -0.3), (1.067, 6.8, -0.35),
    (1.041, 14.9, -0.3), (1.05, 14.1, -0.38), (1.055, 14.9, -0.15), (1.075, 14.05, -0.35), (1.094, 15.75, 0.1),
    (1.077, 15.8, -0.15), (1.05, 15.85, -0.1), (1.113, 15.3, -0.38), (1.10, 14.8, -0.3), (1.127, 14.75, -0.3),
    (1.10, 14.2, -0.1), (1.12, 14.3, -0.38), (1.132, 14.2, 0.3), (1.145, 13.9, -0.1), (1.16, 14.6, 0.25),
    (1.169, 14.5, 0.32), (1.175, 14.3, -0.38), (1.186, 14.6, -0.1), (1.195, 14.45, -0.15), (1.195, 14.1, -0.1),
    (1.089, 13.7, 0.2), (1.092, 13.35, -0.15), (1.072, 13.3, 0.05), (1.085, 13.1, -0.15), (1.105, 13.2, -0.15),
    (1.127, 13.7, 0.38), (1.132, 12.9, 0.3), (1.137, 13.0, -0.1), (1.152, 12.8, 0.3), (1.171, 13.2, 0.3),
    (1.18, 12.9, 0.2), (1.19, 13.2, -0.3), (1.20, 12.8, -0.15), (1.137, 12.4, 0.0), (1.16, 12.5, -0.1),
    (1.155, 12.25, -0.15), (1.195, 12.2, -0.15), (1.103, 12.2, 0.3), (1.085, 12.2, -0.3), (1.12, 12.4, -0.3),
    (1.137, 11.85, 0.38), (1.117, 11.5, 0.2), (1.127, 11.5, -0.1), (1.17, 11.5, 0.05), (1.178, 11.6, -0.15),
    (1.186, 11.5, -0.15), (1.20, 11.5, 0.15), (1.10, 11.05, -0.15), (1.145, 11.05, 0.15), (1.19, 11.05, 0.15),
    (1.195, 15.7, -0.15), (1.28, 15.75, 0.3), (1.29, 15.5, -0.3), (1.27, 15.45, 0.08), (1.31, 15.4, 0.0),
    (1.32, 15.8, -0.15), (1.362, 15.7, 0.15), (1.406, 15.75, -0.3), (1.413, 15.55, 0.15), (1.44, 15.7, 0.15),
    (1.43, 15.45, 0.0), (1.441, 15.2, 0.3), (1.419, 15.2, -0.3), (1.47, 15.4, 0.08), (1.46, 15.05, 0.22),
    (1.533, 15.8, 0.0), (1.66, 15.65, 0.15), (1.68, 15.6, 0.08), (1.69, 15.8, 0.08), (1.732, 15.1, 0.15),
    (1.666, 15.1, -0.15),
    (1.228, 15.4, -0.3), (1.198, 14.75, -0.3), (1.252, 14.8, 0.22), (1.28, 14.8, -0.15), (1.29, 14.9, -0.3),
    (1.32, 14.7, -0.15), (1.348, 14.75, -0.3), (1.367, 14.7, -0.15), (1.41, 14.75, -0.3), (1.435, 14.5, 0.22),
    (1.352, 14.3, -0.38), (1.356, 14.0, 0.15), (1.408, 14.3, 0.3), (1.40, 14.0, -0.3), (1.392, 14.2, -0.15),
    (1.447, 13.95, -0.38), (1.474, 13.9, -0.15), (1.488, 14.15, -0.3), (1.50, 14.2, -0.3), (1.52, 14.85, -0.3),
    (1.535, 15.05, -0.3), (1.535, 14.4, -0.15), (1.56, 14.9, -0.15), (1.563, 14.7, 0.08), (1.586, 14.75, -0.3),
    (1.597, 14.3, -0.15), (1.57, 14.2, 0.08), (1.62, 14.55, 0.22), (1.697, 14.2, 0.08), (1.736, 13.9, -0.3),
    (1.745, 13.65, -0.15),
    (1.196, 14.15, -0.3), (1.21, 14.1, -0.3), (1.228, 14.35, -0.38), (1.24, 13.95, -0.3), (1.259, 14.15, -0.3),
    (1.21, 13.75, -0.15), (1.284, 13.75, -0.15), (1.30, 13.75, 0.08), (1.252, 13.4, -0.3), (1.29, 13.4, -0.15),
    (1.308, 13.35, -0.38), (1.205, 13.4, -0.15), (1.22, 13.45, 0.3), (1.236, 13.35, -0.38), (1.248, 13.35, 0.22),
    (1.222, 13.1, -0.3), (1.25, 12.9, 0.08), (1.284, 12.9, 0.3), (1.342, 13.05, 0.15), (1.356, 13.05, 0.3),
    (1.38, 13.2, 0.08), (1.396, 13.2, 0.0), (1.416, 13.0, 0.38), (1.374, 13.55, -0.15), (1.486, 13.0, 0.15),
    (1.546, 13.4, 0.08), (1.60, 13.0, 0.0), (1.616, 13.1, 0.08), (1.647, 13.5, 0.22), (1.65, 13.1, -0.3),
    (1.66, 13.0, -0.15), (1.733, 13.4, 0.15), (1.738, 13.1, 0.15),
    (1.198, 12.75, 0.15), (1.21, 12.5, -0.3), (1.234, 12.55, -0.15), (1.248, 12.4, -0.15), (1.265, 12.35, -0.3),
    (1.296, 12.55, -0.15), (1.308, 12.55, -0.3), (1.32, 12.5, 0.08), (1.348, 12.3, -0.3), (1.35, 12.1, -0.15),
    (1.342, 11.95, -0.15), (1.388, 12.3, -0.3), (1.41, 12.25, 0.22), (1.388, 11.95, -0.3), (1.428, 12.4, -0.3),
    (1.38, 11.9, -0.15), (1.447, 12.25, -0.15), (1.466, 12.65, -0.3), (1.49, 12.4, 0.08), (1.55, 12.3, 0.0),
    (1.563, 12.0, 0.08), (1.63, 12.65, 0.3), (1.647, 12.65, 0.08), (1.686, 12.35, 0.3), (1.69, 12.6, 0.08),
    (1.706, 12.6, 0.22), (1.717, 12.35, 0.08), (1.725, 12.65, 0.08), (1.736, 11.9, 0.15), (1.707, 12.1, 0.22),
    (1.72, 12.0, 0.08),
    (1.217, 11.9, 0.3), (1.248, 11.9, 0.3), (1.265, 12.0, -0.15), (1.285, 11.95, 0.08), (1.30, 11.95, -0.3),
    (1.29, 12.2, 0.3), (1.20, 11.6, 0.08), (1.234, 11.75, -0.3), (1.25, 11.55, 0.15), (1.285, 11.6, -0.3),
    (1.305, 11.65, -0.38), (1.336, 11.85, -0.15), (1.441, 11.75, 0.15), (1.464, 11.85, 0.38), (1.48, 11.6, -0.3),
    (1.513, 11.6, 0.08), (1.535, 11.4, -0.15), (1.556, 11.4, 0.22), (1.567, 11.45, 0.08), (1.58, 11.45, -0.38),
    (1.592, 11.65, -0.15), (1.643, 11.6, 0.22), (1.668, 11.45, 0.22), (1.68, 11.45, 0.22), (1.708, 11.5, -0.15),
    (1.71, 11.35, 0.38), (1.728, 10.95, -0.38),
    (1.214, 11.3, -0.3), (1.24, 11.15, 0.3), (1.253, 10.95, -0.3), (1.276, 11.15, -0.3), (1.293, 11.0, -0.15),
    (1.308, 11.3, -0.38), (1.316, 11.2, -0.38), (1.336, 11.0, 0.3), (1.362, 11.4, -0.3), (1.38, 11.3, -0.15),
    (1.413, 11.35, -0.3), (1.43, 11.0, 0.3), (1.425, 11.15, -0.38), (1.447, 10.75, -0.15), (1.473, 11.15, -0.15),
    (1.49, 11.15, 0.08), (1.521, 11.15, 0.15), (1.538, 11.1, -0.15), (1.567, 11.15, 0.22), (1.595, 11.0, -0.3),
    (1.613, 10.75, 0.0), (1.63, 10.75, 0.22), (1.647, 10.75, 0.22), (1.665, 11.1, 0.3), (1.66, 10.75, 0.08),
    (1.678, 11.0, -0.15), (1.693, 11.15, 0.15), (1.704, 10.75, 0.22), (1.727, 10.75, 0.3), (1.738, 10.9, 0.22),
    (1.20, 10.75, 0.22), (1.228, 10.9, -0.15), (1.27, 10.75, 0.15), (1.29, 10.6, -0.15), (1.325, 10.75, -0.15),
    (1.345, 10.55, -0.3), (1.367, 10.55, -0.15), (1.388, 10.5, 0.0), (1.41, 10.5, -0.15), (1.396, 10.35, -0.15),
    (1.464, 10.5, 0.15), (1.498, 10.6, 0.22), (1.518, 10.55, -0.38), (1.535, 10.75, 0.22), (1.557, 10.55, 0.08),
    (1.583, 10.6, 0.22), (1.61, 10.35, 0.22), (1.63, 10.4, -0.15), (1.647, 10.35, 0.0), (1.658, 10.35, 0.15),
    (1.678, 10.1, 0.3), (1.668, 10.25, -0.38), (1.695, 10.3, 0.15), (1.727, 10.1, 0.15), (1.744, 9.95, 0.22),
    (1.20, 10.2, -0.3), (1.22, 10.35, 0.15), (1.24, 10.1, -0.38), (1.25, 10.2, -0.15), (1.27, 9.95, 0.22),
    (1.296, 10.1, 0.15), (1.316, 10.0, 0.08), (1.339, 10.2, 0.08), (1.362, 9.95, 0.0), (1.38, 10.1, 0.15),
    (1.405, 10.2, -0.15), (1.425, 9.95, 0.08), (1.441, 9.8, 0.22), (1.47, 10.1, 0.22), (1.487, 9.95, 0.22),
    (1.504, 10.1, 0.38), (1.532, 9.9, 0.08), (1.556, 9.7, 0.22), (1.54, 9.7, 0.38), (1.577, 9.7, 0.08),
    (1.597, 9.55, -0.15), (1.617, 9.55, -0.3), (1.60, 9.9, 0.3), (1.635, 9.95, 0.08), (1.66, 9.7, 0.0),
    (1.678, 9.55, 0.38), (1.69, 9.35, -0.3), (1.705, 9.55, 0.22), (1.72, 9.7, 0.08), (1.74, 9.7, 0.0),
    (1.73, 9.35, 0.3),
    (1.209, 9.7, 0.22), (1.23, 9.8, 0.08), (1.253, 9.7, 0.15), (1.282, 9.75, 0.3), (1.305, 9.7, 0.22),
    (1.328, 9.8, 0.15), (1.35, 9.55, -0.15), (1.373, 9.4, 0.08), (1.395, 9.55, 0.3), (1.419, 9.35, -0.15),
    (1.436, 9.55, 0.22), (1.453, 9.4, 0.08), (1.476, 9.3, 0.0), (1.498, 9.15, 0.22), (1.521, 9.15, 0.08),
    (1.544, 9.15, 0.3), (1.583, 9.1, 0.08), (1.613, 8.95, -0.3), (1.627, 9.2, 0.22), (1.653, 9.15, 0.22),
    (1.67, 9.0, -0.15), (1.693, 9.3, 0.0), (1.707, 8.95, 0.15), (1.733, 8.95, 0.22),
    (1.487, 8.9, 0.22), (1.507, 8.65, 0.08), (1.532, 8.75, 0.3), (1.556, 8.5, 0.3), (1.577, 8.65, 0.22),
    (1.595, 8.4, 0.22), (1.567, 8.15, 0.3), (1.59, 8.0, 0.08), (1.613, 8.15, 0.22), (1.635, 8.25, 0.0),
    (1.647, 7.9, -0.15), (1.67, 8.0, 0.08), (1.686, 8.4, 0.3), (1.704, 8.0, 0.08), (1.72, 7.95, 0.0),
    (1.738, 8.4, 0.22), (1.745, 8.65, 0.08),
    (1.487, 7.75, 0.22), (1.51, 7.6, 0.15), (1.532, 7.35, 0.08), (1.556, 7.5, 0.3), (1.577, 7.1, -0.15),
    (1.59, 6.85, 0.22), (1.613, 7.35, -0.15), (1.63, 7.25, 0.08), (1.647, 6.85, 0.22), (1.663, 7.1, 0.3),
    (1.68, 6.85, 0.15), (1.704, 6.6, 0.15), (1.723, 6.85, -0.38), (1.738, 6.8, 0.22), (1.744, 6.85, 0.08),
    (1.498, 6.6, 0.08), (1.521, 6.35, 0.38), (1.538, 6.2, 0.3), (1.561, 6.45, -0.15), (1.583, 6.3, 0.08),
    (1.60, 6.2, 0.22), (1.624, 6.45, 0.08), (1.647, 6.2, 0.22), (1.67, 6.3, 0.08), (1.693, 6.45, 0.15),
    (1.715, 6.05, 0.22), (1.733, 6.2, 0.08),
    (1.055, 9.9, -0.2), (1.07, 9.5, -0.1), (1.09, 9.8, 0.05), (1.06, 9.1, -0.3), (1.08, 8.8, -0.15),
    (1.095, 9.2, 0.1), (1.055, 8.5, -0.25), (1.075, 8.2, -0.05), (1.09, 8.5, 0.15), (1.06, 7.8, -0.3),
    (1.08, 7.5, 0.0), (1.095, 7.8, -0.15), (1.055, 7.1, -0.2), (1.075, 6.7, 0.05), (1.09, 7.0, -0.35),
    (1.06, 6.3, -0.1), (1.085, 6.2, 0.2), (1.07, 10.3, -0.3), (1.095, 10.5, -0.15),
    (1.105, 10.4, -0.1), (1.12, 10.0, 0.05), (1.14, 10.3, -0.3), (1.11, 9.6, 0.1), (1.13, 9.2, -0.15),
    (1.145, 9.5, 0.2), (1.105, 8.9, 0.0), (1.12, 8.5, 0.25), (1.14, 8.8, -0.1), (1.11, 8.1, 0.15),
    (1.13, 7.8, 0.3), (1.145, 8.2, -0.25), (1.105, 7.4, 0.05), (1.125, 7.1, 0.2), (1.14, 7.4, -0.15),
    (1.11, 6.7, 0.3), (1.13, 6.4, 0.0), (1.145, 6.1, 0.2), (1.12, 6.9, -0.35),
    (1.155, 10.5, 0.0), (1.17, 10.1, -0.2), (1.19, 10.4, 0.15), (1.16, 9.7, 0.2), (1.18, 9.3, 0.05),
    (1.195, 9.6, -0.1), (1.155, 9.0, 0.3), (1.17, 8.6, 0.15), (1.19, 8.9, 0.25), (1.16, 8.3, 0.0),
    (1.18, 8.0, 0.3), (1.195, 8.3, 0.35), (1.155, 7.6, -0.2), (1.175, 7.3, 0.15), (1.19, 7.6, 0.05),
    (1.16, 6.9, 0.25), (1.18, 6.6, -0.1), (1.195, 6.3, 0.3), (1.17, 6.1, -0.3),
    (1.205, 9.4, 0.2), (1.22, 9.0, 0.3), (1.24, 9.3, 0.15), (1.21, 8.7, 0.35), (1.225, 8.4, 0.3),
    (1.24, 8.6, 0.38), (1.205, 8.1, 0.25), (1.22, 7.8, 0.15), (1.245, 8.0, 0.3), (1.21, 7.4, 0.0),
    (1.23, 7.1, 0.2), (1.245, 7.4, -0.25), (1.205, 6.8, 0.1), (1.225, 6.5, 0.3), (1.24, 6.2, -0.3),
    (1.215, 6.2, 0.15), (1.235, 8.9, 0.05),
    (1.255, 9.3, 0.1), (1.27, 8.9, 0.25), (1.29, 9.2, 0.0), (1.26, 8.6, 0.3), (1.28, 8.3, 0.15),
    (1.295, 8.6, 0.35), (1.255, 7.9, 0.2), (1.27, 7.6, -0.1), (1.29, 7.9, 0.3), (1.26, 7.2, 0.15),
    (1.28, 6.9, 0.35), (1.295, 7.2, 0.05), (1.255, 6.5, -0.3), (1.275, 6.2, 0.2), (1.29, 6.5, 0.1),
    (1.305, 9.0, 0.15), (1.32, 8.7, -0.05), (1.34, 9.0, 0.25), (1.31, 8.3, 0.3), (1.33, 8.0, 0.1),
    (1.345, 8.4, -0.2), (1.305, 7.7, 0.2), (1.32, 7.3, 0.35), (1.34, 7.6, 0.0), (1.31, 6.9, 0.15),
    (1.33, 6.6, -0.3), (1.345, 6.9, 0.25), (1.32, 6.2, 0.1),
    (1.355, 8.9, 0.2), (1.375, 8.6, 0.05), (1.39, 8.9, 0.3), (1.36, 8.2, -0.1), (1.38, 7.9, 0.2),
    (1.395, 8.2, 0.15), (1.355, 7.5, 0.3), (1.375, 7.2, 0.1), (1.39, 7.5, -0.25), (1.36, 6.8, 0.2),
    (1.38, 6.5, 0.05), (1.395, 6.2, 0.3),
    (1.405, 8.8, 0.15), (1.425, 8.5, 0.25), (1.44, 8.8, 0.0), (1.41, 8.1, 0.3), (1.43, 7.8, 0.1),
    (1.445, 8.1, 0.2), (1.405, 7.4, -0.15), (1.425, 7.1, 0.25), (1.44, 7.4, 0.05), (1.41, 6.7, 0.2),
    (1.43, 6.4, 0.35), (1.445, 6.7, -0.3),
    (1.455, 8.7, 0.1), (1.475, 8.3, 0.25), (1.49, 8.0, 0.05), (1.46, 7.6, 0.3), (1.48, 7.2, 0.15),
    (1.495, 6.9, 0.2), (1.465, 6.5, 0.0), (1.485, 6.2, 0.25),
    # denser fill of the crowded part
    (1.065,9.6,-.15),(1.085,9.0,0.0),(1.065,8.7,-.2),(1.085,8.0,-.1),(1.065,7.4,-.15),(1.088,7.2,0.1),
    (1.065,6.5,-.05),(1.098,6.5,0.15),(1.075,9.9,-.25),(1.098,8.0,0.05),
    (1.115,10.1,-.15),(1.135,9.8,0.0),(1.118,9.3,0.1),(1.14,9.1,0.15),(1.115,8.6,-.1),(1.135,8.4,0.2),
    (1.118,7.7,0.1),(1.14,7.9,0.15),(1.115,7.1,0.0),(1.135,6.8,0.25),(1.118,6.3,-.15),(1.14,6.6,0.1),
    (1.165,10.2,0.1),(1.185,9.8,0.15),(1.165,9.3,0.2),(1.185,9.1,0.3),(1.165,8.8,0.15),(1.185,8.5,0.3),
    (1.168,8.0,0.22),(1.185,7.8,0.1),(1.165,7.2,0.3),(1.185,7.1,0.15),(1.168,6.5,0.2),(1.19,6.7,0.05),
    (1.215,9.7,0.15),(1.235,9.6,0.2),(1.215,9.1,0.3),(1.232,8.7,0.35),(1.215,8.4,0.3),(1.235,8.2,0.38),
    (1.218,7.9,0.3),(1.24,7.8,0.2),(1.218,7.2,0.15),(1.235,7.5,0.3),(1.215,6.6,0.25),(1.238,6.7,0.1),
    (1.265,9.5,0.15),(1.285,9.6,0.2),(1.265,9.0,0.3),(1.285,8.8,0.2),(1.265,8.3,0.35),(1.285,8.1,0.3),
    (1.268,7.8,0.15),(1.285,7.5,0.25),(1.265,6.9,0.2),(1.285,6.6,0.3),(1.268,6.2,0.1),
    (1.315,9.3,0.1),(1.335,9.4,0.2),(1.315,8.8,0.25),(1.338,8.6,0.15),(1.318,8.0,0.2),(1.338,7.9,0.3),
    (1.315,7.4,0.1),(1.335,7.1,0.25),(1.318,6.5,0.2),(1.34,6.3,0.05),
    (1.365,9.1,0.15),(1.385,8.7,0.25),(1.365,8.5,0.1),(1.388,8.0,0.3),(1.365,7.8,0.2),(1.385,7.3,0.05),
    (1.368,7.0,0.25),(1.388,6.8,0.1),(1.368,6.3,0.15),
    (1.415,8.6,0.2),(1.435,8.2,0.05),(1.415,7.8,0.25),(1.438,7.6,0.15),(1.418,7.0,0.1),(1.435,6.9,0.3),
    (1.418,6.3,0.15),(1.44,6.2,-.15),
    (1.462,8.9,0.15),(1.478,8.6,0.05),(1.47,7.9,0.2),(1.488,7.5,0.1),(1.462,7.0,0.25),(1.48,6.7,0.1),
    (1.475,6.3,0.3),
]

panel_labels = ["(a) PARSEC", "(b) MIST", "(c) Kepler"]
panel_data = [parsec_pts, mist_pts, kepler_pts]
x_ticks = [0.8, 1.0, 1.2, 1.4, 1.6]
y_ticks = [6, 8, 10, 12, 14, 16]
cbar_ticks = [-0.4, -0.2, 0.0, 0.2, 0.4]

jet = matplotlib.colormaps["jet"]
norm = plt.Normalize(-0.4, 0.4)
fs_text = 14.5
fs_tick = 16

fig = plt.figure(figsize=(8.3, 12.46), dpi=100)
ax_rects = [
    [0.1241, 0.6300, 0.7759, 0.2111],
    [0.1241, 0.3780, 0.7759, 0.2103],
    [0.1241, 0.1252, 0.7759, 0.2103],
]

for i, (rect, pts, lab) in enumerate(zip(ax_rects, panel_data, panel_labels)):
    ax = fig.add_axes(rect)
    df = pd.DataFrame(pts, columns=["M", "R", "feh"])
    ax.text(0.032, 0.885, lab, transform=ax.transAxes, fontsize=fs_text,
            va="center", ha="left", zorder=0.5)
    sns.scatterplot(data=df, x="M", y="R", hue="feh", palette=jet,
                    hue_norm=norm, marker="s", s=16, linewidth=0,
                    alpha=0.9, legend=False, ax=ax, zorder=2)
    ax.set_xlim(0.65, 1.75)
    ax.set_ylim(6, 16)
    ax.set_xticks(x_ticks)
    ax.set_yticks(y_ticks)
    ax.tick_params(axis="x", direction="out", length=12, width=1.1, pad=8, labelsize=fs_tick)
    ax.tick_params(axis="y", direction="out", length=11, width=1.1, pad=8, labelsize=fs_tick)
    for sp in ax.spines.values():
        sp.set_linewidth(1.7)
    ax.set_xlabel("")
    ax.set_ylabel("")
    if i < 2:
        ax.set_xticklabels([])
    else:
        ax.set_xlabel(r"$M\;\ (M_{\odot})$", fontsize=fs_tick, labelpad=10)
    if i == 1:
        ax.set_ylabel(r"$R\ (R_{\odot})$", fontsize=fs_tick, labelpad=14)

cax = fig.add_axes([0.1482, 0.8989, 0.7036, 0.0217])
sm = plt.cm.ScalarMappable(norm=norm, cmap=jet)
cb = fig.colorbar(sm, cax=cax, orientation="horizontal", ticks=cbar_ticks)
cb.outline.set_linewidth(1.5)
cax.tick_params(direction="in", length=12, width=1.1, labelsize=fs_tick, pad=10)
cb.set_label("[M/H]", fontsize=fs_text, labelpad=8)

fig.savefig("out.png", dpi=100)
